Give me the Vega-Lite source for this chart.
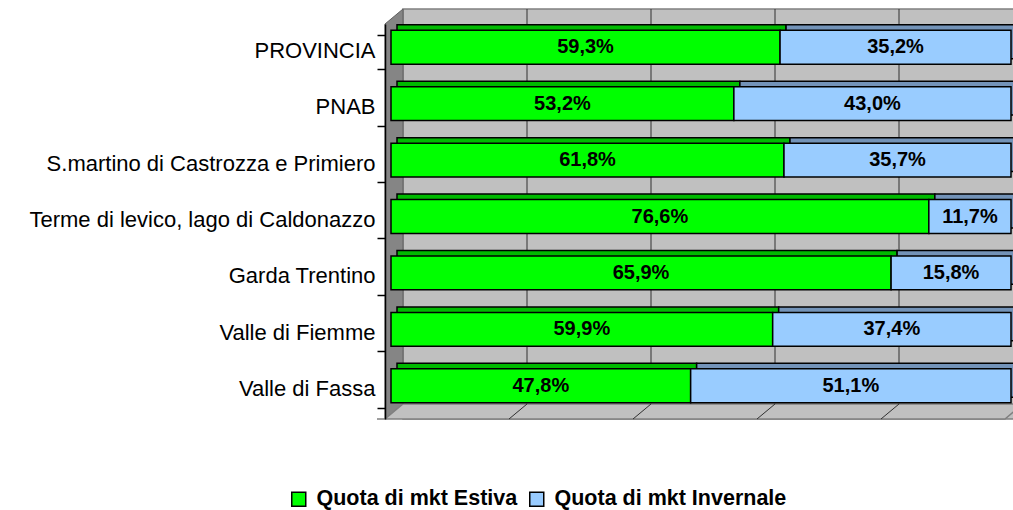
{
  "$schema": "https://vega.github.io/schema/vega-lite/v6.json",
  "width": 620,
  "height": 395,
  "autosize": "none",
  "padding": {"left": 385, "top": 24, "right": 8, "bottom": 91},
  "background": "white",
  "config": {
    "view": {"stroke": null},
    "locale": {"number": {"decimal": ",", "thousands": ".", "grouping": [3], "currency": ["", " €"]}},
    "font": "Liberation Sans"
  },
  "datasets": {
    "bars": [
      {"region": "PROVINCIA", "season": "Quota di mkt Estiva", "value": 0.593},
      {"region": "PROVINCIA", "season": "Quota di mkt Invernale", "value": 0.352},
      {"region": "PNAB", "season": "Quota di mkt Estiva", "value": 0.532},
      {"region": "PNAB", "season": "Quota di mkt Invernale", "value": 0.430},
      {"region": "S.martino di Castrozza e Primiero", "season": "Quota di mkt Estiva", "value": 0.618},
      {"region": "S.martino di Castrozza e Primiero", "season": "Quota di mkt Invernale", "value": 0.357},
      {"region": "Terme di levico, lago di Caldonazzo", "season": "Quota di mkt Estiva", "value": 0.766},
      {"region": "Terme di levico, lago di Caldonazzo", "season": "Quota di mkt Invernale", "value": 0.117},
      {"region": "Garda Trentino", "season": "Quota di mkt Estiva", "value": 0.659},
      {"region": "Garda Trentino", "season": "Quota di mkt Invernale", "value": 0.158},
      {"region": "Valle di Fiemme", "season": "Quota di mkt Estiva", "value": 0.599},
      {"region": "Valle di Fiemme", "season": "Quota di mkt Invernale", "value": 0.374},
      {"region": "Valle di Fassa", "season": "Quota di mkt Estiva", "value": 0.478},
      {"region": "Valle di Fassa", "season": "Quota di mkt Invernale", "value": 0.511}
    ],
    "frame": [{"a": 0, "b": 1}],
    "grid": [{"g": 0.2}, {"g": 0.4}, {"g": 0.6}, {"g": 0.8}]
  },
  "resolve": {"scale": {"color": "independent"}},
  "layer": [
    {
      "data": {"name": "frame"},
      "mark": {"type": "rect", "fill": "#c0c0c0", "stroke": "#808080", "strokeWidth": 1.5, "xOffset": 18, "x2Offset": 18, "yOffset": -15, "y2Offset": -15},
      "encoding": {
        "x": {"field": "a", "type": "quantitative", "scale": {"domain": [0, 1], "nice": false, "zero": true}, "axis": null},
        "x2": {"field": "b"}
      }
    },
    {
      "data": {"name": "grid"},
      "mark": {"type": "rule", "color": "#303030", "strokeWidth": 1, "xOffset": 18, "yOffset": -15, "y2Offset": -15},
      "encoding": {
        "x": {"field": "g", "type": "quantitative"}
      }
    },
    {
      "data": {"name": "frame"},
      "mark": {"type": "point", "shape": "M0,-197.5 L18,-212.5 L18,182.5 L0,197.5 Z", "size": 4, "filled": true, "fill": "#858585", "stroke": "#606060", "strokeWidth": 1, "opacity": 1},
      "encoding": {
        "x": {"field": "a", "type": "quantitative"}
      }
    },
    {
      "data": {"name": "frame"},
      "mark": {"type": "point", "shape": "M0,197.5 L620,197.5 L638,182.5 L18,182.5 Z M-8,197.5 L0,197.5", "size": 4, "filled": true, "fill": "#c0c0c0", "stroke": "#808080", "strokeWidth": 1.5, "opacity": 1},
      "encoding": {
        "x": {"field": "a", "type": "quantitative"}
      }
    },
    {
      "data": {"name": "grid"},
      "mark": {"type": "point", "shape": "M0,197.5 L18,182.5", "size": 4, "filled": false, "stroke": "#303030", "strokeWidth": 1, "opacity": 1},
      "encoding": {
        "x": {"field": "g", "type": "quantitative"}
      }
    },
    {
      "data": {"name": "bars"},
      "mark": {"type": "bar", "stroke": "#000000", "strokeWidth": 1.5, "xOffset": 12, "x2Offset": 12, "yOffset": -10.5},
      "encoding": {
        "y": {"field": "region", "type": "nominal", "sort": null, "scale": {"paddingInner": 0.4, "paddingOuter": 0.2},
          "axis": {"title": null, "labelFontSize": 22, "labelLimit": 0, "labelColor": "#000000", "labelPadding": 2, "labelOffset": -2, "tickSize": 8, "tickColor": "#000000", "tickWidth": 1.5, "domainColor": "#000000", "domainWidth": 1.5, "tickBand": "extent", "zindex": 1}},
        "x": {"field": "value", "type": "quantitative", "stack": "normalize"},
        "color": {"field": "season", "type": "nominal", "legend": null, "scale": {"range": ["#00BA00", "#7393B8"]}},
        "order": {"field": "season", "sort": "ascending"}
      }
    },
    {
      "data": {"name": "bars"},
      "mark": {"type": "bar", "stroke": "#000000", "strokeWidth": 1.5, "xOffset": 6, "x2Offset": 6, "yOffset": -5},
      "encoding": {
        "y": {"field": "region", "type": "nominal", "sort": null},
        "x": {"field": "value", "type": "quantitative", "stack": "normalize"},
        "color": {"field": "season", "type": "nominal", "scale": {"range": ["#00FF00", "#99CCFF"]},
          "legend": {"title": null, "orient": "none", "legendX": -97, "legendY": 464, "direction": "horizontal", "symbolType": "square", "symbolSize": 196, "symbolStrokeColor": "#000000", "symbolStrokeWidth": 1.5, "labelFontSize": 21.5, "labelFontWeight": "bold", "labelLimit": 0, "labelColor": "#000000", "labelOffset": 7, "columnPadding": 8}},
        "order": {"field": "season", "sort": "ascending"}
      }
    },
    {
      "data": {"name": "bars"},
      "mark": {"type": "text", "fontSize": 20, "fontWeight": "bold", "color": "#000000", "align": "center", "baseline": "middle", "dx": 6, "dy": -5},
      "encoding": {
        "y": {"field": "region", "type": "nominal", "sort": null},
        "x": {"field": "value", "type": "quantitative", "stack": "normalize", "bandPosition": 0.5},
        "detail": {"field": "season"},
        "order": {"field": "season", "sort": "ascending"},
        "text": {"field": "value", "type": "quantitative", "format": ".1%"}
      }
    }
  ]
}
